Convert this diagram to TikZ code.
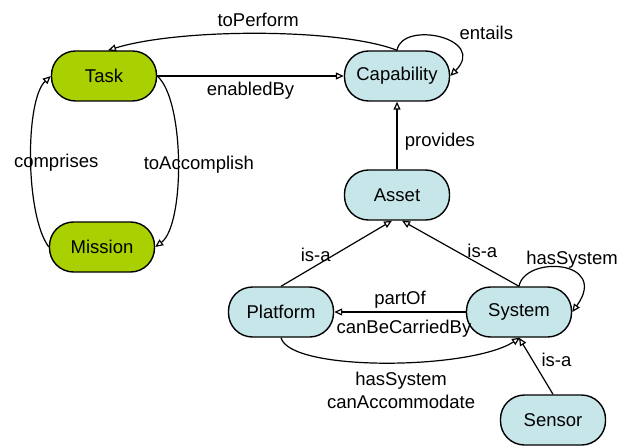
\documentclass[tikz,border=0pt]{standalone}
\usepackage{fontspec}
\setmainfont{Liberation Sans}
\usetikzlibrary{positioning,arrows.meta}
\definecolor{taskgreen}{RGB}{169,208,0}
\definecolor{assetblue}{RGB}{199,230,233}
\tikzset{on grid,
  box/.style={draw, line width=1.4bp, rounded corners=24bp, minimum width=105bp,
    minimum height=50bp, inner sep=0pt, font=\fontsize{18.5bp}{22bp}\selectfont},
  taskbox/.style={box, fill=taskgreen},
  assetbox/.style={box, fill=assetblue},
  link/.style={draw, line width=1.2bp, -{Triangle[open, length=8bp, width=7bp]}},
  lbl/.style={font=\fontsize{18.5bp}{23bp}\selectfont}}

\begin{document}
\begin{tikzpicture}[x=1bp, y=-1bp]
                \useasboundingbox (0,0) rectangle (629,447);
                \node[taskbox]  (Task) at (104,76)                       {Task};
                \node[assetbox] (Capability) [right=293bp of Task]       {Capability};
                \node[taskbox]  (Mission) [below=171bp of Task, xshift=-2bp] {Mission};
                \node[assetbox] (Asset) [below=119bp of Capability]      {Asset};
                \node[assetbox] (Platform) [below left=117bp and 116bp of Asset] {Platform};
                \node[assetbox] (System) [right=238bp of Platform]       {System};
                \node[assetbox] (Sensor) [below right=108bp and 34bp of System] {Sensor};
                \draw[link] (Task) to node[lbl, below, yshift=-2bp] {enabledBy} (Capability);
                \draw[link] (Capability.north) .. controls (340,28) and (180,28) .. ([xshift=4bp]Task.north)
                  node[lbl, pos=0.5, above, yshift=3bp] {toPerform};
                \draw[link] (Capability.north) .. controls (402,20) and (488,38) .. (Capability.east)
                  node[lbl, pos=0.5, above right, xshift=16bp, yshift=-6bp] {entails};
                \draw[link] (Mission.west) .. controls (25,215) and (25,100) .. (Task.west)
                  node[lbl, pos=0.5, xshift=25bp, yshift=-4bp] {comprises};
                \draw[link] (Task.east) .. controls (185,100) and (185,225) .. (Mission.east)
                  node[lbl, pos=0.5, xshift=21bp, yshift=-2bp] {toAccomplish};
                \draw[link] (Asset) to node[lbl, right, xshift=4bp, yshift=-6bp] {provides} (Capability);
                \draw[link] (Platform.north) to node[lbl, left, xshift=-2bp, yshift=-1bp] {is-a} ([xshift=-5bp]Asset.south);
                \draw[link] (System.north) to node[lbl, right, xshift=3bp, yshift=3bp] {is-a} ([xshift=5bp]Asset.south);
                \draw[link] (System.north) .. controls (525,255) and (610,260) .. (System.east)
                  node[lbl, pos=0.5, above, xshift=10bp, yshift=-4bp] {hasSystem};
                \draw[link] (System) to node[lbl, above] {partOf} node[lbl, below, xshift=4bp, yshift=-4bp] {canBeCarriedBy} (Platform);
                \draw[link] (Platform.south) .. controls (290,372) and (470,370) .. ([xshift=1bp]System.south)
                  node[lbl, pos=0.5, below, align=center, xshift=16bp, yshift=-5bp] {hasSystem\\canAccommodate};
                \draw[link] (Sensor.north) to node[lbl, pos=0.6, right, xshift=5bp] {is-a} (System.south);
              \end{tikzpicture}
\end{document}
